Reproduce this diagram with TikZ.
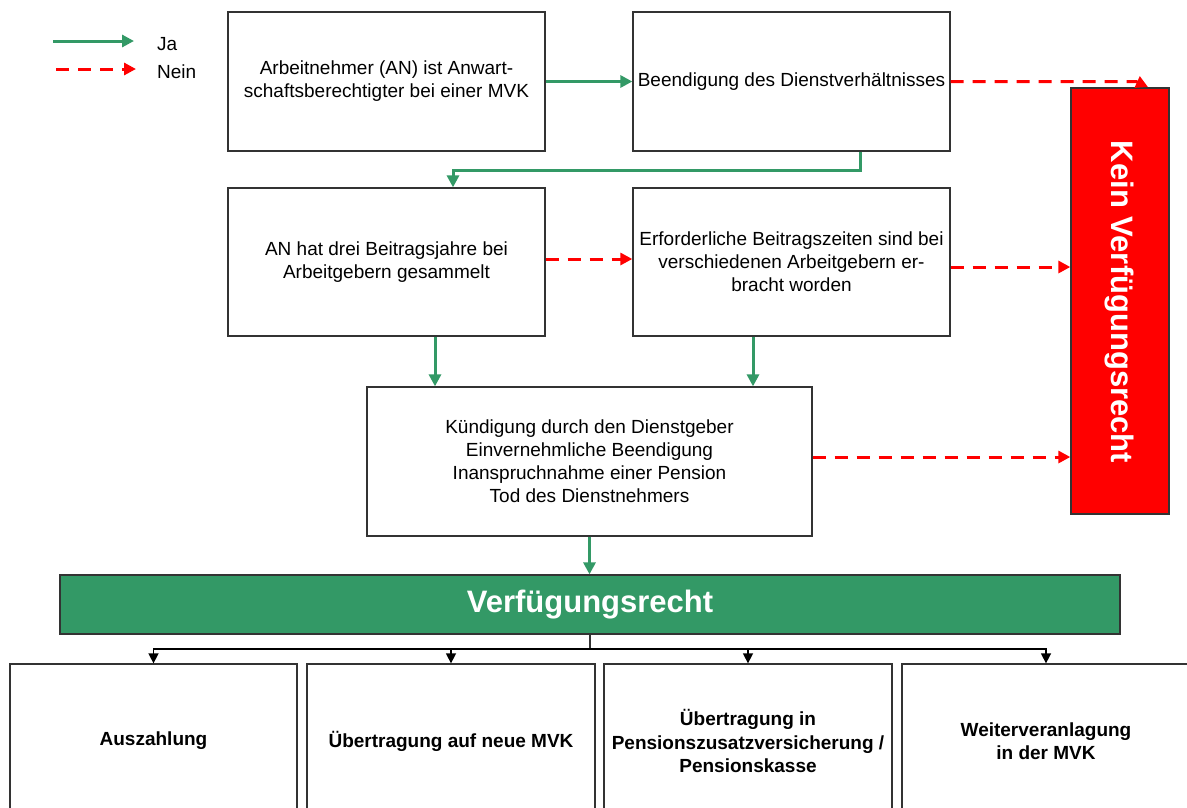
\documentclass[tikz,border=0pt]{standalone}
\usepackage{fontspec}
\setmainfont{Liberation Sans}
\usetikzlibrary{arrows.meta}
\definecolor{jagreen}{HTML}{339966}
\definecolor{neinred}{HTML}{FF0000}
\definecolor{boxline}{HTML}{333333}
\tikzset{
  box/.style={draw=boxline, line width=1.3pt, fill=white, inner sep=0pt, align=center,
    font=\fontsize{19}{23}\selectfont},
  bbox/.style={box, font=\bfseries\fontsize{19}{23.5}\selectfont},
  ja/.style={draw=jagreen, line width=3pt, -{Triangle[length=12pt,width=12pt]}},
  nein/.style={draw=neinred, line width=3pt, dash pattern=on 13pt off 9pt,
    -{Triangle[length=12pt,width=12pt]}},
  dist/.style={draw=boxline, line width=1.5pt},
  distarrow/.style={draw=black, line width=1.5pt, -{Triangle[length=10pt,width=10pt]}},
  legendtext/.style={anchor=west, inner sep=0pt, font=\fontsize{19}{23}\selectfont},
  bigwhite/.style={text=white, font=\bfseries\fontsize{31}{31}\selectfont},
}
\begin{document}
\begin{tikzpicture}[x=1pt, y=-1pt]
\path[use as bounding box, clip] (0,0) rectangle (1187,807);
\fill[white] (0,0) rectangle (1187,807);

% legend
\coordinate (ja1) at (53,41);
\coordinate (ja2) at (134,41);
\coordinate (ne1) at (56,69);
\coordinate (ne2) at (136,69);
\draw[ja] (ja1) -- (ja2);
\draw[nein] (ne1) -- (ne2);
\node[legendtext] (jat) at (157,44) {Ja};
\node[legendtext] (net) at (157,72) {Nein};

% boxes
\node[box, minimum width=317pt, minimum height=139pt] (A) at (386.5,81.5)
  {Arbeitnehmer (AN) ist Anwart-\\schaftsberechtigter bei einer MVK};
\node[box, minimum width=317pt, minimum height=139pt] (B) at (791.5,81.5)
  {Beendigung des Dienstverhältnisses};
\node[box, minimum width=317pt, minimum height=148pt] (C) at (386.5,262)
  {AN hat drei Beitragsjahre bei\\ Arbeitgebern gesammelt};
\node[box, minimum width=317pt, minimum height=148pt] (D) at (791.5,262)
  {Erforderliche Beitragszeiten sind bei\\verschiedenen Arbeitgebern er-\\bracht worden};
\node[box, minimum width=445pt, minimum height=149pt] (E) at (589.5,461.5)
  {Kündigung durch den Dienstgeber\\Einvernehmliche Beendigung\\Inanspruchnahme einer Pension\\Tod des Dienstnehmers};

\node[draw=boxline, line width=1.3pt, fill=neinred, inner sep=0pt,
  minimum width=98pt, minimum height=426pt] (K) at (1120,301) {};
\node[bigwhite, rotate=-90, inner sep=0pt] (Kt) at (1119,302) {Kein Verfügungsrecht};

\node[draw=boxline, line width=1.3pt, fill=jagreen, inner sep=0pt, bigwhite,
  minimum width=1060pt, minimum height=59pt] (G) at (590,604.5) {Verfügungsrecht};

\node[bbox, minimum width=287pt, minimum height=154pt] (b1) at (153.5,741) {Auszahlung};
\node[bbox, minimum width=288pt, minimum height=154pt] (b2) at (451,741) {Übertragung auf neue MVK};
\node[bbox, minimum width=288pt, minimum height=154pt] (b3) at (748,741)
  {Übertragung in\\Pensionszusatzversicherung /\\Pensionskasse};
\node[bbox, minimum width=288pt, minimum height=154pt] (b4) at (1046,741)
  {Weiterveranlagung\\in der MVK};

% helper coordinates
\coordinate (x860) at (860,0);
\coordinate (x453) at (453,0);
\coordinate (x435) at (435,0);
\coordinate (x753) at (753,0);
\coordinate (y259) at (0,259);
\coordinate (y267) at (0,267);
\coordinate (y457) at (0,457);
\coordinate (kt) at (1148,87);
\coordinate (hub) at (590,649);

% connectors
\draw[ja] (A.east) -- (B.west);
\draw[ja] (B.south -| x860) -- ++(0,19) -| (C.north -| x453);
\draw[nein] (B.east) -- (1136,81.5) -- (kt);
\draw[nein] (C.east |- y259) -- (D.west |- y259);
\draw[nein] (D.east |- y267) -- (K.west |- y267);
\draw[nein] (E.east |- y457) -- (K.west |- y457);
\draw[ja] (C.south -| x435) -- (E.north -| x435);
\draw[ja] (D.south -| x753) -- (E.north -| x753);
\draw[ja] (E.south) -- (G.north -| E.south);

\draw[dist] (G.south) -- (hub);
\draw[distarrow] (hub) -| (b1.north);
\draw[distarrow] (hub) -| (b2.north);
\draw[distarrow] (hub) -| (b3.north);
\draw[distarrow] (hub) -| (b4.north);
\end{tikzpicture}
\end{document}
